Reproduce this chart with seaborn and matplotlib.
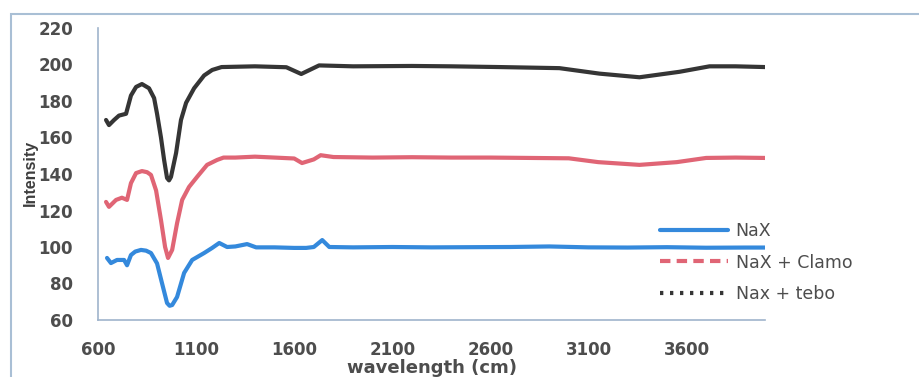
import seaborn as sns
import matplotlib.pyplot as plt
from matplotlib.lines import Line2D
from matplotlib.patches import Rectangle

# ========================================== DATA ==========================================

nax_wave = [646, 666, 697, 733, 748, 768, 790, 819, 845, 870, 901, 926, 952, 965, 978, 1003, 1039, 1080, 1141,
            1182, 1218, 1258, 1300, 1360, 1406, 1500, 1600, 1661, 1700, 1743, 1779, 1900, 2100, 2300, 2500,
            2700, 2900, 3100, 3300, 3500, 3700, 3900, 4000]
nax_int = [94, 91.2, 92.9, 92.9, 90, 95.6, 97.5, 98.4, 98, 96.7, 91, 80.3, 69.3, 67.8, 68.2, 72.6, 85.8, 92.9, 96.7,
           99.5, 102.2, 100, 100.3, 101.6, 99.8, 99.8, 99.5, 99.5, 100, 103.8, 100, 99.8, 100, 99.8, 99.9,
           100, 100.3, 99.8, 99.7, 99.9, 99.6, 99.7, 99.7]

clamo_wave = [641, 656, 692, 722, 748, 768, 794, 824, 850, 870, 896, 921, 942, 957, 978, 1003, 1029, 1064, 1105,
              1156, 1207, 1240, 1300, 1400, 1500, 1600, 1640, 1700, 1735, 1800, 2000, 2200, 2400, 2600, 2800,
              3000, 3150, 3360, 3550, 3700, 3850, 4000]
clamo_int = [124.7, 122, 125.8, 127, 125.8, 135, 140.5, 141.6, 141, 139.5, 131, 114.8, 100, 94, 98.4, 113, 125.8,
             132.9, 138.4, 145, 147.7, 149, 149, 149.5, 149, 148.5, 146, 148, 150.3, 149.3, 149, 149.2, 149, 149,
             148.8, 148.6, 146.5, 145, 146.5, 148.8, 149, 148.8]

tebo_wave = [641, 656, 682, 707, 743, 748, 768, 794, 824, 860, 886, 901, 921, 937, 952, 962, 972, 998, 1023, 1049,
             1090, 1141, 1182, 1230, 1400, 1560, 1636, 1727, 1900, 2200, 2400, 2646, 2952, 3156, 3360, 3564,
             3717, 3850, 4000]
tebo_int = [169.6, 166.8, 169.6, 172, 173, 175, 183, 187.7, 189.3, 187, 181.6, 173, 160, 147.7, 137.8, 136.5,
            138.4, 151.5, 169.6, 179, 187, 194, 197, 198.6, 199, 198.5, 194.8, 199.5, 199, 199.2, 199, 198.6, 198,
            195, 193, 196, 199, 199, 198.6]

labels = ['NaX', 'NaX + Clamo', 'Nax + tebo']
colors = ['#3489dc', '#e06575', '#353535']
x_ticks = [600, 1100, 1600, 2100, 2600, 3100, 3600]
y_ticks = [60, 80, 100, 120, 140, 160, 180, 200, 220]

# ========================================== PLOT ==========================================

sns.set_style('white')
plt.rcParams['font.family'] = ['DejaVu Sans']

fig = plt.figure(figsize = (9.2, 3.77), dpi = 100)
ax = fig.add_axes([98 / 920, 1 - 320 / 377, (765 - 98) / 920, (320 - 28) / 377])

for wave, inten, color in zip([nax_wave, clamo_wave, tebo_wave], [nax_int, clamo_int, tebo_int], colors):
    sns.lineplot(x = wave, y = inten, color = color, linewidth = 3, ax = ax)

ax.set_xlim(600, 4000)
ax.set_ylim(60, 220)
ax.set_xticks(x_ticks)
ax.set_yticks(y_ticks)

axis_color = '#9fb4cc'
sns.despine(ax = ax)
for side in ['left', 'bottom']:
    ax.spines[side].set_color(axis_color)
    ax.spines[side].set_linewidth(1.2)
ax.tick_params(axis = 'y', length = 6, width = 1, color = axis_color, pad = 12, labelsize = 12, labelcolor = '#4d4d4d')
ax.tick_params(axis = 'x', length = 3, width = 1, color = axis_color, pad = 12, labelsize = 12, labelcolor = '#4d4d4d')
for lbl in ax.get_xticklabels() + ax.get_yticklabels():
    lbl.set_fontweight('bold')

fig.text(432 / 920, 1 - 368 / 377, 'wavelength (cm)', ha = 'center', va = 'center', fontsize = 13,
         fontweight = 'bold', color = '#4d4d4d')
fig.text(30 / 920, 1 - 173 / 377, 'Intensity', rotation = 90, ha = 'center', va = 'center', fontsize = 11.5,
         fontweight = 'bold', color = '#3d3d3d', family = ['Liberation Sans'])

# legend shows line styles that differ from the drawn curves, as in the source figure
handles = [Line2D([], [], color = colors[0], linewidth = 3, linestyle = '-'),
           Line2D([], [], color = colors[1], linewidth = 3, linestyle = (0, (2.5, 1.5))),
           Line2D([], [], color = colors[2], linewidth = 3, linestyle = (0, (0.8, 1.6)))]
leg = fig.legend(handles, labels, loc = 'upper left', bbox_to_anchor = (660 / 920, 1 - 222 / 377),
                 frameon = False, fontsize = 12.5, handlelength = 3.9, handletextpad = 0.45,
                 labelspacing = 0.78, borderpad = 0, borderaxespad = 0)
for txt in leg.get_texts():
    txt.set_color('#4d4d4d')

fig.patches.append(Rectangle((11 / 920, -0.1), 1.0, 1.1 - 14 / 377, transform = fig.transFigure,
                             fill = False, edgecolor = '#a9bfd5', linewidth = 1.5))

plt.savefig('out.png', dpi = 100)
